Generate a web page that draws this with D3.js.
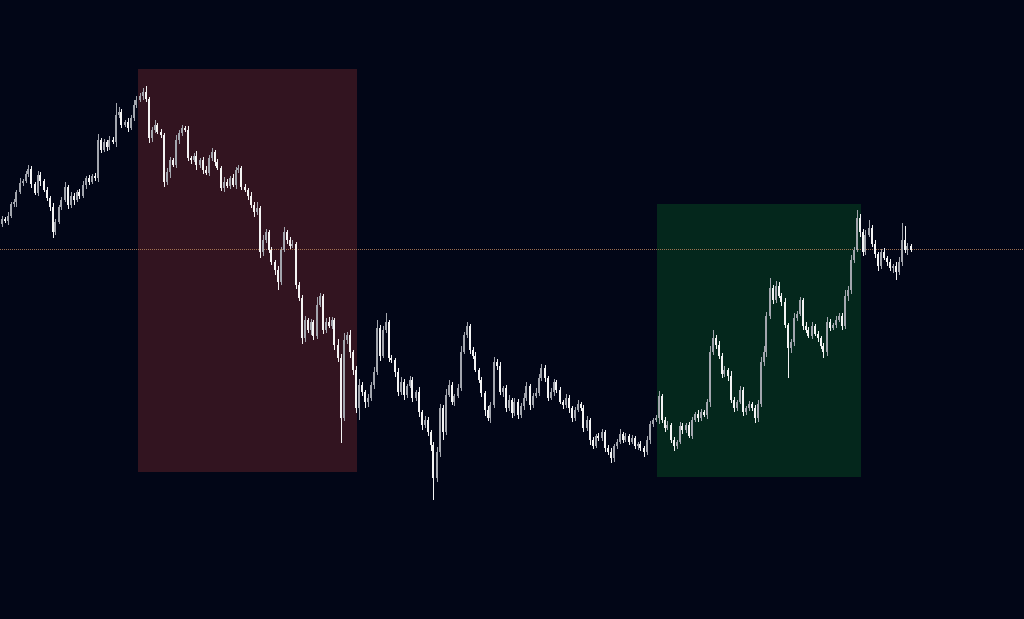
<!DOCTYPE html>
<html><head><meta charset="utf-8">
<script src="https://cdn.jsdelivr.net/npm/d3@7"></script>
<style>html,body{margin:0;padding:0;background:#020617;overflow:hidden}</style>
</head><body><svg id="c" width="1024" height="619"></svg>
<script>
const firstOpen = 396;
const closes = [
401,399,404,416,418,428,437,439,446,451,
436,427,445,439,430,422,413,388,398,413,
420,433,415,424,420,428,424,435,442,438,
444,442,480,470,478,473,480,478,505,508,
495,498,492,502,515,520,524,528,521,482,
490,495,488,485,438,448,460,455,480,487,
492,490,462,460,464,455,460,450,447,462,
468,458,452,432,438,434,442,435,450,452,
433,430,424,415,408,412,368,380,388,370,
358,350,338,370,388,380,374,376,335,322,
282,300,290,298,284,315,324,290,298,294,
300,275,262,202,280,285,268,250,212,235,
228,218,222,235,248,292,264,290,298,262,
260,248,228,238,225,234,240,222,228,208,
195,200,188,175,142,168,212,188,225,235,
218,224,232,268,285,294,270,264,250,240,
227,210,202,215,258,254,228,232,212,220,
207,218,205,214,222,234,215,224,227,242,
252,242,222,228,238,230,218,215,222,212,
202,210,216,212,192,200,180,174,184,182,
188,172,168,162,174,178,186,180,184,178,
182,174,176,172,168,180,196,200,202,224,
200,192,195,180,174,178,194,190,195,184,
200,206,202,208,205,218,268,282,275,264,
246,250,244,220,212,218,230,208,212,216,
212,202,216,258,268,304,332,320,334,324,
318,295,272,278,302,306,320,294,290,284,
294,286,282,274,268,298,292,295,300,304,
294,324,330,360,370,402,388,368,385,392,
376,366,354,368,362,358,352,354,348,358,
380,370,374,370];
const upperWick = [
3,2,4,2,3,2,5,2,3,4, 3,2,4,3,2,3,2,4,3,2, 3,5,2,4,3,2,3,4,2,3, 2,3,6,2,3,2,4,3,12,5,
3,2,4,3,5,4,3,4,6,2, 3,5,2,3,2,4,3,2,5,3, 3,2,4,2,3,5,2,3,4,3, 4,2,3,2,5,3,2,4,3,3,
2,3,2,4,3,6,2,5,3,2, 3,2,4,3,5,2,3,4,2,3, 3,4,2,3,2,8,3,2,4,5, 3,2,6,4,7,3,5,2,4,6,
3,2,4,3,5,8,3,4,9,2, 3,2,4,5,3,2,4,3,2,5, 2,4,3,2,3,5,4,3,6,5, 3,2,4,6,3,4,2,3,4,2,
3,2,4,3,5,3,4,2,3,5, 2,4,3,3,5,4,2,3,5,4, 4,3,2,4,3,2,3,2,4,3, 2,3,4,2,3,4,2,3,2,3,
3,2,3,4,2,3,5,2,3,2, 3,2,2,3,2,4,3,2,3,5, 2,3,4,2,3,2,4,3,2,3, 3,2,4,3,2,3,6,8,3,4,
3,4,2,5,3,2,4,3,2,3, 2,3,4,5,6,4,10,3,5,4, 3,4,2,3,5,3,3,2,4,3, 4,2,3,2,3,5,3,2,4,3,
3,6,4,5,3,8,4,3,5,8, 3,4,2,3,4,2,3,2,4,5, 17,14,3,2];
const lowerWick = [
3,2,4,2,3,5,2,3,2,3, 4,2,3,5,2,3,4,6,3,2, 3,2,4,3,5,2,3,2,4,3, 2,3,4,3,2,4,3,2,5,3,
3,2,4,2,3,3,2,4,3,5, 4,3,2,3,5,3,6,2,3,4, 3,2,3,4,2,5,3,4,2,3, 3,4,2,3,4,2,3,2,4,3,
3,2,4,3,5,3,6,4,3,3, 3,5,8,3,2,4,3,2,4,3, 6,4,3,5,4,3,2,4,3,2, 3,5,4,25,3,4,6,5,5,12,
4,6,5,3,4,3,5,2,3,4, 3,5,4,3,5,3,2,4,3,5, 5,3,4,6,22,4,5,8,3,2, 3,4,2,3,2,3,4,3,2,3,
4,6,3,5,3,4,3,5,4,3, 5,3,4,3,4,3,5,3,2,3, 3,4,3,2,4,3,2,4,3,5, 4,3,2,3,4,3,5,3,2,3,
3,4,3,5,4,3,2,3,2,3, 2,3,4,3,5,3,4,3,2,6, 3,4,2,3,5,3,2,4,3,2, 3,2,4,3,2,4,5,3,4,3,
4,3,5,3,4,3,2,4,3,3, 3,5,4,3,4,5,3,4,3,2, 4,3,30,5,4,3,2,4,3,2, 3,2,4,3,6,4,3,2,3,2,
4,3,5,4,3,2,5,4,3,2, 3,4,5,3,2,4,3,5,8,3, 4,3,5,2];
const priceLine = 371;
const zoneNames = ["distribution","accumulation"];
const zoneStart = [46, 219];
const zoneEnd = [119, 287];
const zoneTop = [551, 416];
const zoneBottom = [148, 143];
const zoneColors = ["#321420","#04271c"];

const W = 1024, H = 619;
const N = closes.length;
const candles = closes.map((c, i) => {
  const o = i === 0 ? firstOpen : closes[i-1];
  return {i, o, c, h: Math.max(o,c) + upperWick[i], l: Math.min(o,c) - lowerWick[i]};
});
const x = d3.scaleLinear().domain([0, N-1]).range([1.5, 1.5 + 3*(N-1)]);
const y = d3.scaleLinear().domain([0, 620]).range([620, 0]);
const svg = d3.select("#c");
svg.append("rect").attr("width", W).attr("height", H).attr("fill", "#020617");

svg.selectAll("rect.zone").data(zoneNames).join("rect").attr("class","zone")
  .attr("x", (d,k) => Math.floor(x(zoneStart[k]) - 1))
  .attr("width", (d,k) => x(zoneEnd[k]) - x(zoneStart[k]))
  .attr("y", (d,k) => y(zoneTop[k]))
  .attr("height", (d,k) => y(zoneBottom[k]) - y(zoneTop[k]))
  .attr("fill", (d,k) => zoneColors[k]);

svg.append("line").attr("x1", 0).attr("x2", W)
  .attr("y1", Math.round(y(priceLine)) + 0.5).attr("y2", Math.round(y(priceLine)) + 0.5)
  .attr("stroke", "#b8825c").attr("stroke-opacity", 0.85).attr("stroke-width", 1).attr("stroke-dasharray", "1,1");

const up = "#a3a6ae", dn = "#f4f4f4";
const g = svg.append("g").attr("shape-rendering", "crispEdges");
g.selectAll("rect.w").data(candles).join("rect").attr("class","w")
  .attr("x", d => Math.round(x(d.i) - 1) + 1)
  .attr("width", 1)
  .attr("y", d => y(d.h))
  .attr("height", d => y(d.l) - y(d.h))
  .attr("fill", d => d.c >= d.o ? up : dn);
g.selectAll("rect.b").data(candles).join("rect").attr("class","b")
  .attr("x", d => Math.round(x(d.i) - 1))
  .attr("width", 2)
  .attr("y", d => y(Math.max(d.o, d.c)))
  .attr("height", d => Math.max(1, Math.abs(y(d.o) - y(d.c))))
  .attr("fill", d => d.c >= d.o ? up : dn);
</script></body></html>
